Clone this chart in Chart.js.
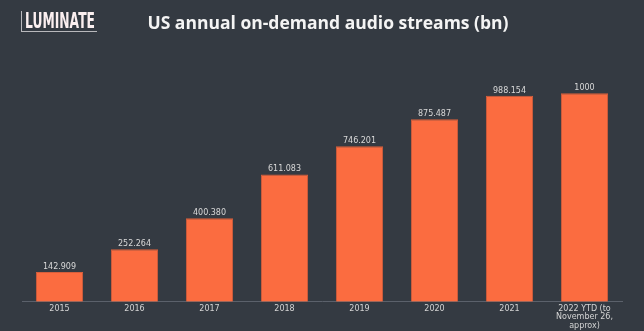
<!DOCTYPE html>
<html>
<head>
<meta charset="utf-8">
<script src="https://cdn.jsdelivr.net/npm/chart.js@4.4.0/dist/chart.umd.min.js"></script>
<style>
  html, body { margin: 0; padding: 0; background: #343a42; overflow: hidden; }
  #wrap { position: relative; width: 644px; height: 331px; overflow: hidden; }
  #logo {
    position: absolute; left: 21px; top: 11px; height: 20px; width: 72px;
    border-left: 1px solid #b8b8bc; border-bottom: 1px solid #b8b8bc;
    padding: 0 0 0 3px;
  }
  #logo span {
    display: inline-block; transform: scaleX(0.56); transform-origin: left top;
    font-family: "DejaVu Sans", sans-serif; font-weight: bold; font-size: 22px;
    line-height: 20px; color: #fbeff0; white-space: nowrap;
  }
  #title {
    position: absolute; left: 0; width: 656px; top: 10px; text-align: center;
    font-family: "Open Sans", sans-serif; font-weight: bold; font-size: 17.5px; color: #f4f4f4;
  }
  canvas { position: absolute; left: 0; top: 0; }
</style>
</head>
<body>
<div id="wrap">
  <canvas id="streamsChart" width="644" height="333"></canvas>
  <div id="logo"><span>LUMINATE</span></div>
  <div id="title">US annual on-demand audio streams (bn)</div>
</div>
<script>
// --- data ---
const years = ['2015', '2016', '2017', '2018', '2019', '2020', '2021', ['2022 YTD (to', 'November 26,', 'approx)']];
const streams = [142.909, 252.264, 400.380, 611.083, 746.201, 875.487, 988.154, 1000];

// value labels above the bars
const barLabels = {
    id: 'barLabels',
    afterDatasetsDraw(chart) {
        const ctx = chart.ctx;
        const meta = chart.getDatasetMeta(0);
        ctx.save();
        ctx.font = "8px 'DejaVu Sans', sans-serif";
        ctx.fillStyle = '#d9d9d9';
        ctx.textAlign = 'center';
        ctx.textBaseline = 'bottom';
        meta.data.forEach((bar, i) => {
            const v = streams[i];
            const txt = Number.isInteger(v) ? String(v) : v.toFixed(3);
            ctx.fillText(txt, bar.x, bar.y - 1);
        });
        ctx.restore();
    }
};

const ctx1 = document.getElementById('streamsChart').getContext('2d');
new Chart(ctx1, {
    type: 'bar',
    data: {
        labels: years,
        datasets: [{
            data: streams,
            backgroundColor: '#fb6c40',
            borderColor: '#d65e3b',
            borderWidth: 1,
            barPercentage: 0.63,
            categoryPercentage: 1
        }]
    },
    options: {
        responsive: false,
        animation: false,
        layout: { padding: { left: 22, right: 22, top: 60, bottom: 0 } },
        plugins: {
            legend: { display: false },
            tooltip: { enabled: false }
        },
        scales: {
            y: { display: false, min: 0, max: 1160 },
            x: {
                grid: { display: false, drawTicks: false },
                border: { display: true, color: '#5b616b', width: 1 },
                ticks: {
                    color: '#d4d4d4',
                    padding: 3,
                    maxRotation: 0,
                    autoSkip: false,
                    font: { family: "'DejaVu Sans', sans-serif", size: 8, lineHeight: 1.05 }
                }
            }
        }
    },
    plugins: [barLabels]
});
</script>
</body>
</html>
